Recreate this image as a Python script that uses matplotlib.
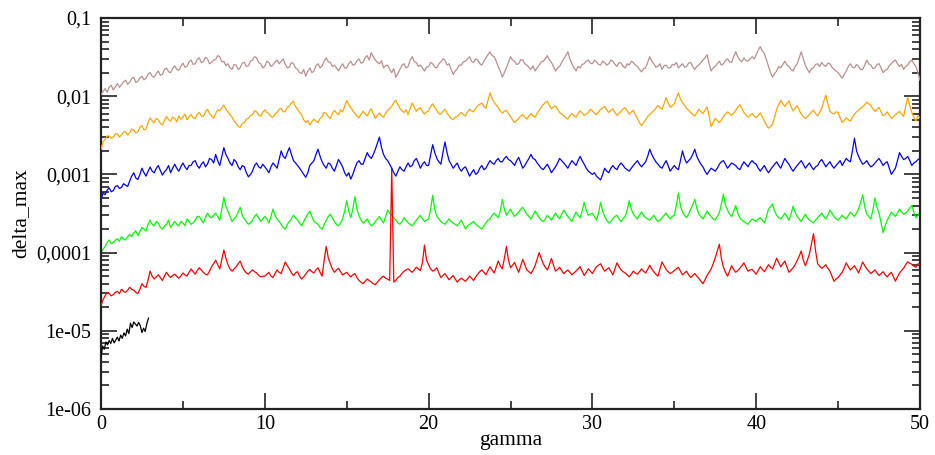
import numpy as np
import matplotlib
matplotlib.use("Agg")
import matplotlib.pyplot as plt
from matplotlib.ticker import LogLocator, NullFormatter, FixedLocator, FixedFormatter, MultipleLocator

plt.rcParams['font.family'] = ['Liberation Serif', 'DejaVu Serif']

# ---------------- data ----------------
gamma_step = 0.125   # spacing of the samples along gamma

brown = [
    1.05e-2, 1.15e-2, 1.25e-2, 1.12e-2, 1.3e-2, 1.38e-2, 1.2e-2, 1.32e-2, 1.45e-2, 1.3e-2,
    1.4e-2, 1.52e-2, 1.6e-2, 1.42e-2, 1.5e-2, 1.68e-2, 1.75e-2, 1.5e-2, 1.55e-2, 1.72e-2,
    1.8e-2, 1.62e-2, 1.7e-2, 1.9e-2, 2.0e-2, 1.8e-2, 1.75e-2, 1.95e-2, 2.1e-2, 1.85e-2,
    1.9e-2, 2.2e-2, 2.3e-2, 2.05e-2, 2.0e-2, 2.25e-2, 2.45e-2, 2.2e-2, 2.15e-2, 2.4e-2,
    2.65e-2, 2.35e-2, 2.4e-2, 2.75e-2, 2.9e-2, 2.55e-2, 2.6e-2, 2.95e-2, 3.1e-2, 2.7e-2,
    2.75e-2, 3.15e-2, 3.0e-2, 2.6e-2, 2.7e-2, 2.9e-2, 2.95e-2, 3.3e-2, 3.2e-2, 2.75e-2,
    2.8e-2, 2.45e-2, 2.6e-2, 2.3e-2, 2.2e-2, 2.55e-2, 2.5e-2, 2.2e-2, 2.3e-2, 2.65e-2,
    2.7e-2, 2.4e-2, 2.45e-2, 2.8e-2, 2.9e-2, 3.2e-2, 3.1e-2, 2.7e-2, 2.6e-2, 2.3e-2,
    2.4e-2, 2.8e-2, 2.7e-2, 2.4e-2, 2.5e-2, 2.75e-2, 2.9e-2, 2.6e-2, 2.8e-2, 3.0e-2,
    2.55e-2, 2.3e-2, 2.35e-2, 2.7e-2, 2.6e-2, 2.3e-2, 2.2e-2, 2.0e-2, 1.95e-2, 2.2e-2,
    1.8e-2, 2.1e-2, 2.3e-2, 2.0e-2, 2.1e-2, 2.45e-2, 2.6e-2, 2.3e-2, 2.45e-2, 2.8e-2,
    3.1e-2, 2.75e-2, 2.7e-2, 2.4e-2, 2.5e-2, 2.3e-2, 2.1e-2, 2.35e-2, 2.6e-2, 2.3e-2,
    2.3e-2, 2.6e-2, 2.8e-2, 2.5e-2, 2.55e-2, 2.85e-2, 3.0e-2, 2.65e-2, 2.7e-2, 3.1e-2,
    3.3e-2, 2.9e-2, 3.6e-2, 3.2e-2, 2.9e-2, 2.7e-2, 2.6e-2, 2.85e-2, 2.3e-2, 2.45e-2,
    2.5e-2, 2.2e-2, 2.0e-2, 2.25e-2, 1.75e-2, 1.95e-2, 2.2e-2, 2.5e-2, 2.6e-2, 2.3e-2,
    2.4e-2, 2.9e-2, 3.2e-2, 2.8e-2, 2.7e-2, 2.4e-2, 2.5e-2, 2.3e-2, 2.1e-2, 2.35e-2,
    2.4e-2, 2.7e-2, 2.6e-2, 2.35e-2, 2.3e-2, 2.6e-2, 2.75e-2, 3.0e-2, 2.9e-2, 2.5e-2,
    2.6e-2, 2.2e-2, 1.9e-2, 2.1e-2, 2.25e-2, 2.5e-2, 2.5e-2, 2.75e-2, 2.8e-2, 3.0e-2,
    3.2e-2, 2.8e-2, 2.7e-2, 3.0e-2, 2.9e-2, 2.6e-2, 2.5e-2, 2.8e-2, 3.1e-2, 3.4e-2,
    3.7e-2, 3.3e-2, 3.2e-2, 2.8e-2, 2.4e-2, 2.1e-2, 1.75e-2, 2.0e-2, 2.3e-2, 2.7e-2,
    3.2e-2, 2.9e-2, 2.8e-2, 2.55e-2, 2.6e-2, 2.95e-2, 2.9e-2, 2.6e-2, 2.5e-2, 2.35e-2,
    2.2e-2, 2.45e-2, 2.1e-2, 2.3e-2, 2.5e-2, 2.75e-2, 2.8e-2, 3.0e-2, 3.3e-2, 2.9e-2,
    2.7e-2, 2.4e-2, 2.1e-2, 2.3e-2, 2.4e-2, 2.7e-2, 3.0e-2, 3.3e-2, 3.7e-2, 3.0e-2,
    2.6e-2, 2.3e-2, 2.1e-2, 2.4e-2, 2.3e-2, 2.55e-2, 2.6e-2, 2.8e-2, 2.9e-2, 2.65e-2,
    2.6e-2, 2.9e-2, 2.75e-2, 2.55e-2, 2.5e-2, 2.8e-2, 2.7e-2, 2.5e-2, 2.6e-2, 2.9e-2,
    2.8e-2, 2.55e-2, 2.4e-2, 2.7e-2, 2.65e-2, 2.4e-2, 2.3e-2, 2.6e-2, 2.5e-2, 2.8e-2,
    2.7e-2, 2.5e-2, 2.4e-2, 2.2e-2, 2.05e-2, 2.25e-2, 2.3e-2, 2.7e-2, 3.2e-2, 2.8e-2,
    2.6e-2, 2.35e-2, 2.4e-2, 2.6e-2, 2.2e-2, 2.45e-2, 2.5e-2, 2.3e-2, 2.3e-2, 2.55e-2,
    2.5e-2, 2.7e-2, 2.3e-2, 2.45e-2, 2.6e-2, 2.35e-2, 2.4e-2, 2.65e-2, 2.7e-2, 2.4e-2,
    2.2e-2, 2.4e-2, 2.5e-2, 2.7e-2, 2.9e-2, 3.1e-2, 3.4e-2, 2.6e-2, 2.1e-2, 2.3e-2,
    2.4e-2, 2.6e-2, 2.8e-2, 2.5e-2, 2.6e-2, 2.85e-2, 3.0e-2, 2.75e-2, 2.7e-2, 3.2e-2,
    3.7e-2, 3.2e-2, 2.9e-2, 2.75e-2, 3.1e-2, 2.85e-2, 2.8e-2, 3.0e-2, 3.2e-2, 3.0e-2,
    3.4e-2, 3.9e-2, 4.3e-2, 3.8e-2, 3.5e-2, 2.9e-2, 2.4e-2, 2.0e-2, 1.75e-2, 1.95e-2,
    2.1e-2, 2.4e-2, 2.3e-2, 2.55e-2, 2.8e-2, 2.5e-2, 2.4e-2, 2.2e-2, 2.1e-2, 2.4e-2,
    2.6e-2, 3.1e-2, 3.7e-2, 3.0e-2, 2.5e-2, 2.2e-2, 2.0e-2, 2.25e-2, 2.3e-2, 2.55e-2,
    2.6e-2, 2.4e-2, 2.7e-2, 2.5e-2, 2.4e-2, 2.65e-2, 2.6e-2, 2.35e-2, 2.2e-2, 2.1e-2,
    2.0e-2, 1.85e-2, 1.7e-2, 1.9e-2, 2.1e-2, 2.4e-2, 2.6e-2, 2.35e-2, 2.3e-2, 2.55e-2,
    2.4e-2, 2.2e-2, 2.2e-2, 2.5e-2, 2.9e-2, 2.6e-2, 2.5e-2, 2.25e-2, 2.3e-2, 2.55e-2,
    2.6e-2, 2.3e-2, 2.0e-2, 2.15e-2, 2.2e-2, 2.45e-2, 2.6e-2, 2.8e-2, 2.9e-2, 2.6e-2,
    2.4e-2, 2.55e-2, 2.2e-2, 2.4e-2, 2.5e-2, 2.75e-2, 2.9e-2, 2.6e-2, 2.4e-2, 2.0e-2,
    1.6e-2,
]

orange = [
    2.1e-3, 2.6e-3, 2.8e-3, 3.1e-3, 3.1e-3, 2.9e-3, 3.0e-3, 3.3e-3, 3.3e-3, 3.0e-3,
    3.2e-3, 3.5e-3, 3.5e-3, 3.2e-3, 3.4e-3, 3.8e-3, 3.7e-3, 3.4e-3, 3.5e-3, 4.0e-3,
    4.2e-3, 3.7e-3, 3.8e-3, 4.6e-3, 5.3e-3, 4.8e-3, 4.6e-3, 5.2e-3, 5.0e-3, 4.5e-3,
    4.3e-3, 4.9e-3, 5.5e-3, 5.0e-3, 4.8e-3, 5.4e-3, 5.2e-3, 4.7e-3, 5.6e-3, 5.1e-3,
    5.4e-3, 5.9e-3, 5.0e-3, 5.4e-3, 5.8e-3, 5.3e-3, 5.2e-3, 5.9e-3, 6.2e-3, 5.6e-3,
    5.5e-3, 6.3e-3, 6.8e-3, 6.0e-3, 5.6e-3, 5.2e-3, 6.0e-3, 6.7e-3, 6.5e-3, 7.1e-3,
    7.7e-3, 6.8e-3, 6.3e-3, 5.8e-3, 5.4e-3, 4.8e-3, 4.5e-3, 4.1e-3, 4.0e-3, 4.5e-3,
    4.6e-3, 5.1e-3, 5.2e-3, 5.7e-3, 5.8e-3, 6.5e-3, 6.3e-3, 5.8e-3, 5.5e-3, 6.2e-3,
    6.7e-3, 6.2e-3, 6.0e-3, 5.5e-3, 5.4e-3, 5.9e-3, 6.2e-3, 6.8e-3, 7.0e-3, 6.3e-3,
    6.4e-3, 7.2e-3, 7.5e-3, 8.2e-3, 8.6e-3, 7.4e-3, 6.8e-3, 6.2e-3, 5.8e-3, 5.0e-3,
    4.6e-3, 4.9e-3, 4.3e-3, 4.7e-3, 5.1e-3, 4.8e-3, 4.6e-3, 5.2e-3, 5.5e-3, 6.2e-3,
    6.0e-3, 5.5e-3, 5.2e-3, 6.0e-3, 6.6e-3, 6.1e-3, 5.8e-3, 6.7e-3, 6.3e-3, 7.4e-3,
    8.8e-3, 7.8e-3, 7.2e-3, 6.5e-3, 6.0e-3, 5.6e-3, 5.3e-3, 5.9e-3, 6.4e-3, 6.0e-3,
    5.6e-3, 6.3e-3, 6.9e-3, 6.0e-3, 5.2e-3, 5.7e-3, 6.1e-3, 5.6e-3, 5.4e-3, 6.0e-3,
    6.6e-3, 7.0e-3, 7.4e-3, 8.3e-3, 8.9e-3, 7.8e-3, 7.0e-3, 6.5e-3, 6.2e-3, 6.7e-3,
    5.8e-3, 7.0e-3, 8.2e-3, 7.2e-3, 6.4e-3, 6.9e-3, 7.1e-3, 6.4e-3, 5.9e-3, 6.3e-3,
    6.5e-3, 7.4e-3, 8.0e-3, 7.2e-3, 6.6e-3, 6.0e-3, 5.9e-3, 6.4e-3, 6.8e-3, 6.1e-3,
    5.6e-3, 5.2e-3, 5.0e-3, 5.4e-3, 5.5e-3, 5.9e-3, 6.2e-3, 5.8e-3, 5.6e-3, 6.3e-3,
    6.8e-3, 6.5e-3, 6.3e-3, 7.0e-3, 7.5e-3, 7.9e-3, 8.2e-3, 7.4e-3, 7.0e-3, 8.8e-3,
    11.0e-3, 9.4e-3, 8.4e-3, 7.7e-3, 7.2e-3, 6.5e-3, 6.1e-3, 6.4e-3, 6.6e-3, 6.0e-3,
    5.5e-3, 5.0e-3, 4.6e-3, 4.9e-3, 5.2e-3, 5.6e-3, 5.8e-3, 5.4e-3, 5.1e-3, 5.6e-3,
    6.0e-3, 5.6e-3, 5.4e-3, 6.0e-3, 6.6e-3, 7.2e-3, 7.8e-3, 8.3e-3, 8.6e-3, 7.6e-3,
    6.9e-3, 7.3e-3, 7.5e-3, 6.8e-3, 6.2e-3, 5.9e-3, 5.6e-3, 5.3e-3, 5.1e-3, 5.6e-3,
    6.0e-3, 5.7e-3, 5.4e-3, 6.0e-3, 6.5e-3, 6.1e-3, 5.7e-3, 5.9e-3, 6.2e-3, 6.8e-3,
    6.5e-3, 6.0e-3, 5.8e-3, 6.3e-3, 6.8e-3, 7.1e-3, 7.4e-3, 6.7e-3, 6.2e-3, 6.6e-3,
    6.9e-3, 6.2e-3, 5.7e-3, 6.0e-3, 6.4e-3, 6.9e-3, 7.1e-3, 6.5e-3, 5.9e-3, 6.3e-3,
    6.6e-3, 5.8e-3, 5.2e-3, 4.6e-3, 4.2e-3, 4.6e-3, 5.0e-3, 5.5e-3, 5.8e-3, 6.2e-3,
    6.5e-3, 7.0e-3, 7.6e-3, 7.2e-3, 6.8e-3, 8.0e-3, 9.6e-3, 8.2e-3, 7.2e-3, 7.6e-3,
    8.0e-3, 9.5e-3, 11.0e-3, 9.2e-3, 8.3e-3, 7.6e-3, 7.0e-3, 6.6e-3, 6.2e-3, 5.9e-3,
    5.6e-3, 6.1e-3, 6.8e-3, 6.4e-3, 6.0e-3, 6.6e-3, 7.3e-3, 5.6e-3, 4.1e-3, 4.6e-3,
    5.2e-3, 4.9e-3, 4.6e-3, 5.0e-3, 5.5e-3, 5.9e-3, 6.3e-3, 6.0e-3, 5.7e-3, 6.1e-3,
    6.6e-3, 7.2e-3, 7.8e-3, 7.0e-3, 6.2e-3, 5.8e-3, 5.4e-3, 5.7e-3, 6.0e-3, 5.6e-3,
    5.3e-3, 5.7e-3, 6.1e-3, 5.4e-3, 4.8e-3, 4.3e-3, 3.9e-3, 4.1e-3, 4.4e-3, 5.4e-3,
    6.8e-3, 7.8e-3, 8.9e-3, 8.0e-3, 7.4e-3, 8.1e-3, 8.7e-3, 7.4e-3, 6.5e-3, 7.0e-3,
    7.6e-3, 6.6e-3, 5.9e-3, 5.5e-3, 5.2e-3, 5.5e-3, 5.8e-3, 6.3e-3, 6.6e-3, 6.0e-3,
    5.6e-3, 6.2e-3, 7.0e-3, 8.6e-3, 10.3e-3, 8.0e-3, 6.4e-3, 6.1e-3, 5.9e-3, 6.3e-3,
    6.2e-3, 5.3e-3, 4.6e-3, 4.9e-3, 5.3e-3, 5.0e-3, 4.8e-3, 5.4e-3, 5.9e-3, 6.3e-3,
    6.6e-3, 7.0e-3, 7.3e-3, 7.8e-3, 8.4e-3, 8.0e-3, 7.6e-3, 6.9e-3, 6.4e-3, 6.8e-3,
    7.2e-3, 6.3e-3, 5.6e-3, 5.9e-3, 6.3e-3, 5.7e-3, 5.2e-3, 5.5e-3, 5.8e-3, 6.1e-3,
    6.4e-3, 5.9e-3, 5.5e-3, 7.4e-3, 9.7e-3, 7.6e-3, 6.2e-3, 5.4e-3, 4.8e-3, 5.6e-3,
    5.3e-3,
]

blue = [
    0.47e-3, 0.58e-3, 0.55e-3, 0.63e-3, 0.67e-3, 0.6e-3, 0.62e-3, 0.7e-3, 0.72e-3, 0.66e-3,
    0.68e-3, 0.76e-3, 0.73e-3, 0.7e-3, 0.82e-3, 0.95e-3, 1.05e-3, 0.9e-3, 0.86e-3, 1.0e-3,
    1.2e-3, 1.05e-3, 0.95e-3, 1.1e-3, 1.24e-3, 1.1e-3, 1.05e-3, 1.2e-3, 1.3e-3, 1.12e-3,
    0.98e-3, 1.08e-3, 1.15e-3, 1.3e-3, 1.05e-3, 1.2e-3, 1.35e-3, 1.2e-3, 1.1e-3, 1.25e-3,
    1.4e-3, 1.25e-3, 1.15e-3, 1.3e-3, 1.3e-3, 1.45e-3, 1.5e-3, 1.3e-3, 1.2e-3, 1.35e-3,
    1.45e-3, 1.25e-3, 1.35e-3, 1.6e-3, 1.55e-3, 1.4e-3, 1.8e-3, 1.5e-3, 1.3e-3, 1.7e-3,
    2.2e-3, 1.8e-3, 1.6e-3, 1.4e-3, 1.3e-3, 1.55e-3, 1.45e-3, 1.25e-3, 1.15e-3, 1.3e-3,
    1.25e-3, 1.05e-3, 0.93e-3, 1.0e-3, 1.1e-3, 1.3e-3, 1.4e-3, 1.25e-3, 1.2e-3, 1.35e-3,
    1.25e-3, 1.15e-3, 1.05e-3, 1.25e-3, 1.4e-3, 1.3e-3, 1.2e-3, 1.55e-3, 2.0e-3, 1.7e-3,
    1.6e-3, 1.9e-3, 2.2e-3, 1.8e-3, 1.5e-3, 1.4e-3, 1.3e-3, 1.2e-3, 1.1e-3, 1.0e-3,
    0.92e-3, 1.05e-3, 1.3e-3, 1.4e-3, 1.5e-3, 1.8e-3, 2.1e-3, 1.7e-3, 1.45e-3, 1.3e-3,
    1.2e-3, 1.4e-3, 1.35e-3, 1.2e-3, 1.1e-3, 1.3e-3, 1.55e-3, 1.4e-3, 1.25e-3, 1.05e-3,
    0.95e-3, 1.05e-3, 0.87e-3, 1.0e-3, 1.2e-3, 1.4e-3, 1.5e-3, 1.35e-3, 1.35e-3, 1.6e-3,
    1.9e-3, 1.7e-3, 1.6e-3, 1.8e-3, 2.1e-3, 2.5e-3, 3.0e-3, 2.2e-3, 1.8e-3, 1.6e-3,
    1.5e-3, 1.35e-3, 1.2e-3, 1.05e-3, 0.95e-3, 1.1e-3, 1.25e-3, 1.15e-3, 1.1e-3, 1.25e-3,
    1.4e-3, 1.25e-3, 1.3e-3, 1.5e-3, 1.6e-3, 1.4e-3, 1.2e-3, 1.35e-3, 1.45e-3, 1.3e-3,
    1.3e-3, 1.8e-3, 2.4e-3, 1.9e-3, 1.6e-3, 1.45e-3, 1.35e-3, 1.9e-3, 2.6e-3, 1.9e-3,
    1.5e-3, 1.35e-3, 1.2e-3, 1.3e-3, 1.4e-3, 1.2e-3, 1.1e-3, 1.2e-3, 1.25e-3, 1.1e-3,
    0.95e-3, 1.05e-3, 1.15e-3, 1.0e-3, 1.05e-3, 1.2e-3, 1.3e-3, 1.15e-3, 1.2e-3, 1.35e-3,
    1.5e-3, 1.4e-3, 1.35e-3, 1.5e-3, 1.6e-3, 1.45e-3, 1.45e-3, 1.6e-3, 1.7e-3, 1.55e-3,
    1.5e-3, 1.4e-3, 1.3e-3, 1.5e-3, 1.65e-3, 1.4e-3, 1.2e-3, 1.3e-3, 1.45e-3, 1.6e-3,
    1.8e-3, 1.6e-3, 1.55e-3, 1.4e-3, 1.3e-3, 1.2e-3, 1.15e-3, 1.25e-3, 1.35e-3, 1.2e-3,
    1.05e-3, 1.15e-3, 1.25e-3, 1.4e-3, 1.6e-3, 1.5e-3, 1.4e-3, 1.3e-3, 1.2e-3, 1.35e-3,
    1.5e-3, 1.4e-3, 1.3e-3, 1.5e-3, 1.7e-3, 1.5e-3, 1.35e-3, 1.2e-3, 1.1e-3, 1.05e-3,
    1.0e-3, 1.05e-3, 0.95e-3, 0.9e-3, 0.85e-3, 1.0e-3, 1.2e-3, 1.1e-3, 1.05e-3, 1.2e-3,
    1.3e-3, 1.2e-3, 1.15e-3, 1.3e-3, 1.4e-3, 1.3e-3, 1.2e-3, 1.15e-3, 1.1e-3, 1.2e-3,
    1.3e-3, 1.4e-3, 1.5e-3, 1.35e-3, 1.25e-3, 1.35e-3, 1.45e-3, 1.7e-3, 2.1e-3, 1.8e-3,
    1.6e-3, 1.45e-3, 1.35e-3, 1.25e-3, 1.2e-3, 1.35e-3, 1.5e-3, 1.3e-3, 1.1e-3, 1.2e-3,
    1.3e-3, 1.2e-3, 1.15e-3, 1.5e-3, 2.0e-3, 1.6e-3, 1.4e-3, 1.5e-3, 1.6e-3, 1.8e-3,
    2.1e-3, 1.7e-3, 1.5e-3, 1.35e-3, 1.25e-3, 1.1e-3, 1.0e-3, 1.1e-3, 1.2e-3, 1.15e-3,
    1.1e-3, 1.2e-3, 1.35e-3, 1.45e-3, 1.5e-3, 1.35e-3, 1.2e-3, 1.3e-3, 1.4e-3, 1.35e-3,
    1.3e-3, 1.2e-3, 1.15e-3, 1.3e-3, 1.45e-3, 1.35e-3, 1.25e-3, 1.4e-3, 1.5e-3, 1.4e-3,
    1.35e-3, 1.2e-3, 1.1e-3, 1.2e-3, 1.3e-3, 1.15e-3, 1.05e-3, 1.15e-3, 1.25e-3, 1.35e-3,
    1.45e-3, 1.3e-3, 1.2e-3, 1.4e-3, 1.6e-3, 1.45e-3, 1.35e-3, 1.2e-3, 1.1e-3, 1.2e-3,
    1.3e-3, 1.4e-3, 1.5e-3, 1.35e-3, 1.2e-3, 1.3e-3, 1.4e-3, 1.25e-3, 1.15e-3, 1.25e-3,
    1.3e-3, 1.45e-3, 1.55e-3, 1.4e-3, 1.25e-3, 1.35e-3, 1.45e-3, 1.3e-3, 1.2e-3, 1.3e-3,
    1.4e-3, 1.5e-3, 1.3e-3, 1.45e-3, 1.6e-3, 1.5e-3, 1.45e-3, 2.0e-3, 2.9e-3, 2.0e-3,
    1.7e-3, 1.5e-3, 1.35e-3, 1.4e-3, 1.5e-3, 1.35e-3, 1.25e-3, 1.3e-3, 1.4e-3, 1.5e-3,
    1.6e-3, 1.45e-3, 1.3e-3, 1.4e-3, 1.45e-3, 1.2e-3, 1.0e-3, 1.1e-3, 1.2e-3, 1.5e-3,
    1.9e-3, 1.7e-3, 1.55e-3, 1.6e-3, 1.7e-3, 1.5e-3, 1.3e-3, 1.4e-3, 1.45e-3, 1.55e-3,
    1.6e-3,
]

green = [
    1.0e-4, 1.1e-4, 1.2e-4, 1.35e-4, 1.45e-4, 1.3e-4, 1.35e-4, 1.45e-4, 1.5e-4, 1.4e-4,
    1.6e-4, 1.5e-4, 1.45e-4, 1.6e-4, 1.7e-4, 1.6e-4, 1.8e-4, 1.9e-4, 1.65e-4, 1.85e-4,
    2.1e-4, 2.0e-4, 1.9e-4, 2.3e-4, 2.6e-4, 2.3e-4, 2.2e-4, 2.5e-4, 2.4e-4, 2.1e-4,
    2.0e-4, 2.2e-4, 2.3e-4, 2.6e-4, 2.1e-4, 2.3e-4, 2.5e-4, 2.3e-4, 2.2e-4, 2.5e-4,
    2.4e-4, 2.2e-4, 2.7e-4, 2.5e-4, 2.3e-4, 2.4e-4, 2.6e-4, 2.9e-4, 2.9e-4, 2.6e-4,
    2.4e-4, 2.8e-4, 3.2e-4, 2.9e-4, 2.8e-4, 3.0e-4, 3.2e-4, 2.9e-4, 2.6e-4, 3.6e-4,
    5.1e-4, 3.9e-4, 3.4e-4, 2.9e-4, 2.5e-4, 2.7e-4, 2.9e-4, 3.3e-4, 3.8e-4, 3.0e-4,
    2.7e-4, 2.5e-4, 2.3e-4, 2.4e-4, 2.6e-4, 2.9e-4, 3.1e-4, 2.8e-4, 2.5e-4, 2.7e-4,
    2.9e-4, 2.7e-4, 2.4e-4, 2.9e-4, 3.6e-4, 3.0e-4, 2.7e-4, 2.5e-4, 2.3e-4, 2.1e-4,
    2.0e-4, 2.3e-4, 2.5e-4, 2.7e-4, 3.0e-4, 2.8e-4, 2.6e-4, 2.4e-4, 2.2e-4, 2.5e-4,
    2.8e-4, 3.1e-4, 3.4e-4, 2.9e-4, 2.5e-4, 2.4e-4, 2.3e-4, 2.1e-4, 2.0e-4, 2.3e-4,
    2.6e-4, 2.9e-4, 3.1e-4, 2.8e-4, 2.5e-4, 2.3e-4, 2.2e-4, 2.4e-4, 2.7e-4, 3.4e-4,
    4.6e-4, 3.4e-4, 2.8e-4, 3.6e-4, 5.2e-4, 3.6e-4, 3.0e-4, 2.6e-4, 2.4e-4, 2.5e-4,
    2.7e-4, 2.4e-4, 2.2e-4, 2.3e-4, 2.5e-4, 2.7e-4, 2.9e-4, 2.6e-4, 2.4e-4, 2.9e-4,
    3.5e-4, 3.2e-4, 3.0e-4, 2.8e-4, 2.6e-4, 2.4e-4, 2.3e-4, 2.5e-4, 2.8e-4, 2.6e-4,
    2.4e-4, 2.3e-4, 2.2e-4, 2.4e-4, 2.6e-4, 2.8e-4, 3.0e-4, 2.7e-4, 2.5e-4, 2.6e-4,
    2.7e-4, 3.6e-4, 5.4e-4, 3.6e-4, 2.9e-4, 2.7e-4, 2.5e-4, 2.4e-4, 2.3e-4, 2.5e-4,
    2.7e-4, 2.5e-4, 2.4e-4, 2.3e-4, 2.2e-4, 2.4e-4, 2.6e-4, 2.3e-4, 2.0e-4, 2.2e-4,
    2.3e-4, 2.4e-4, 2.5e-4, 2.3e-4, 2.2e-4, 2.1e-4, 2.0e-4, 2.2e-4, 2.4e-4, 2.6e-4,
    2.7e-4, 3.0e-4, 3.2e-4, 3.0e-4, 2.8e-4, 3.4e-4, 4.8e-4, 3.6e-4, 3.0e-4, 3.3e-4,
    3.6e-4, 3.2e-4, 2.9e-4, 3.1e-4, 3.3e-4, 3.6e-4, 3.8e-4, 3.4e-4, 3.1e-4, 2.9e-4,
    2.7e-4, 3.0e-4, 3.4e-4, 3.1e-4, 2.8e-4, 2.6e-4, 2.5e-4, 2.7e-4, 3.0e-4, 2.8e-4,
    2.6e-4, 2.9e-4, 3.2e-4, 2.9e-4, 2.7e-4, 3.1e-4, 3.5e-4, 3.2e-4, 2.9e-4, 2.7e-4,
    2.5e-4, 2.9e-4, 3.3e-4, 3.0e-4, 2.8e-4, 3.4e-4, 4.4e-4, 3.5e-4, 3.0e-4, 3.1e-4,
    3.2e-4, 2.9e-4, 2.6e-4, 3.2e-4, 4.4e-4, 3.4e-4, 2.9e-4, 2.6e-4, 2.4e-4, 2.5e-4,
    2.7e-4, 2.9e-4, 3.0e-4, 2.7e-4, 2.5e-4, 2.7e-4, 2.9e-4, 3.5e-4, 4.6e-4, 3.6e-4,
    3.1e-4, 2.9e-4, 2.7e-4, 3.0e-4, 3.3e-4, 3.0e-4, 2.8e-4, 2.7e-4, 2.6e-4, 2.8e-4,
    3.0e-4, 2.7e-4, 2.5e-4, 2.6e-4, 2.8e-4, 3.0e-4, 3.2e-4, 2.9e-4, 2.7e-4, 2.9e-4,
    3.0e-4, 4.0e-4, 5.8e-4, 4.0e-4, 3.3e-4, 3.0e-4, 2.8e-4, 3.1e-4, 3.6e-4, 4.1e-4,
    4.8e-4, 3.7e-4, 3.1e-4, 2.9e-4, 2.7e-4, 3.0e-4, 3.4e-4, 3.1e-4, 2.9e-4, 2.7e-4,
    2.6e-4, 2.9e-4, 3.2e-4, 4.2e-4, 5.6e-4, 4.0e-4, 3.5e-4, 3.1e-4, 2.9e-4, 3.4e-4,
    4.0e-4, 3.2e-4, 2.8e-4, 2.6e-4, 2.5e-4, 2.4e-4, 2.3e-4, 2.5e-4, 2.7e-4, 2.6e-4,
    2.5e-4, 2.7e-4, 2.8e-4, 2.6e-4, 2.4e-4, 2.9e-4, 3.6e-4, 3.9e-4, 4.2e-4, 3.4e-4,
    3.0e-4, 2.8e-4, 2.7e-4, 2.9e-4, 3.2e-4, 2.9e-4, 2.6e-4, 3.1e-4, 3.9e-4, 3.3e-4,
    2.9e-4, 2.7e-4, 2.5e-4, 2.8e-4, 3.1e-4, 2.8e-4, 2.6e-4, 2.5e-4, 2.4e-4, 2.6e-4,
    2.8e-4, 3.0e-4, 3.2e-4, 2.9e-4, 2.7e-4, 3.0e-4, 3.5e-4, 3.2e-4, 2.9e-4, 2.7e-4,
    2.6e-4, 2.8e-4, 3.0e-4, 2.8e-4, 2.7e-4, 3.0e-4, 3.3e-4, 3.1e-4, 2.9e-4, 3.2e-4,
    3.6e-4, 4.4e-4, 5.5e-4, 3.9e-4, 3.1e-4, 2.9e-4, 2.7e-4, 3.5e-4, 5.0e-4, 3.8e-4,
    3.2e-4, 2.4e-4, 1.8e-4, 2.2e-4, 2.6e-4, 2.9e-4, 3.3e-4, 3.1e-4, 2.9e-4, 3.2e-4,
    3.6e-4, 3.3e-4, 3.1e-4, 3.2e-4, 3.4e-4, 3.7e-4, 4.0e-4, 3.3e-4, 2.8e-4, 3.0e-4,
    3.3e-4,
]

red = [
    2.1e-5, 2.5e-5, 2.8e-5, 3.1e-5, 3.0e-5, 2.8e-5, 2.9e-5, 3.1e-5, 3.2e-5, 3.0e-5,
    3.4e-5, 3.2e-5, 3.1e-5, 3.3e-5, 3.6e-5, 3.4e-5, 3.3e-5, 3.1e-5, 3.0e-5, 3.4e-5,
    4.0e-5, 3.7e-5, 3.6e-5, 4.5e-5, 5.8e-5, 5.0e-5, 4.6e-5, 4.9e-5, 5.2e-5, 4.8e-5,
    4.4e-5, 5.0e-5, 5.6e-5, 5.1e-5, 4.8e-5, 5.1e-5, 5.3e-5, 5.0e-5, 4.7e-5, 5.0e-5,
    5.5e-5, 5.2e-5, 5.0e-5, 5.6e-5, 6.2e-5, 5.7e-5, 5.3e-5, 5.9e-5, 6.4e-5, 6.0e-5,
    5.6e-5, 5.3e-5, 5.2e-5, 5.8e-5, 6.6e-5, 7.2e-5, 8.0e-5, 7.0e-5, 6.2e-5, 8.2e-5,
    10.8e-5, 8.5e-5, 7.0e-5, 6.2e-5, 5.8e-5, 6.2e-5, 6.6e-5, 7.2e-5, 7.8e-5, 6.6e-5,
    5.9e-5, 5.5e-5, 5.3e-5, 5.7e-5, 6.0e-5, 5.7e-5, 5.5e-5, 5.1e-5, 4.9e-5, 5.0e-5,
    5.0e-5, 5.3e-5, 5.6e-5, 5.0e-5, 4.8e-5, 5.4e-5, 6.0e-5, 5.6e-5, 5.4e-5, 6.4e-5,
    7.6e-5, 6.8e-5, 6.2e-5, 5.5e-5, 5.1e-5, 5.5e-5, 5.7e-5, 5.0e-5, 4.6e-5, 4.9e-5,
    5.3e-5, 5.8e-5, 6.1e-5, 5.7e-5, 5.5e-5, 6.0e-5, 6.4e-5, 5.6e-5, 5.0e-5, 8.0e-5,
    12.0e-5, 8.6e-5, 7.2e-5, 6.2e-5, 5.6e-5, 6.0e-5, 6.3e-5, 5.7e-5, 5.2e-5, 5.4e-5,
    5.6e-5, 5.2e-5, 4.9e-5, 5.2e-5, 5.4e-5, 4.8e-5, 4.4e-5, 4.2e-5, 4.0e-5, 4.3e-5,
    4.6e-5, 4.4e-5, 4.2e-5, 4.0e-5, 3.9e-5, 4.2e-5, 4.5e-5, 4.8e-5, 5.0e-5, 4.7e-5,
    4.6e-5, 4.4e-5, 120.0e-5, 4.2e-5, 4.4e-5, 4.8e-5, 5.0e-5, 5.4e-5, 5.8e-5, 6.0e-5,
    6.2e-5, 5.9e-5, 5.6e-5, 6.0e-5, 6.5e-5, 6.2e-5, 5.9e-5, 7.5e-5, 12.5e-5, 8.0e-5,
    7.0e-5, 6.2e-5, 5.8e-5, 6.0e-5, 6.4e-5, 5.5e-5, 4.8e-5, 5.1e-5, 5.4e-5, 4.9e-5,
    4.5e-5, 4.8e-5, 5.1e-5, 4.6e-5, 4.2e-5, 4.5e-5, 4.7e-5, 4.5e-5, 4.3e-5, 4.6e-5,
    5.0e-5, 4.7e-5, 4.4e-5, 4.9e-5, 5.3e-5, 5.7e-5, 6.0e-5, 5.6e-5, 5.2e-5, 5.9e-5,
    6.6e-5, 6.0e-5, 5.5e-5, 6.5e-5, 7.8e-5, 6.8e-5, 6.2e-5, 8.4e-5, 12.0e-5, 8.0e-5,
    6.4e-5, 6.9e-5, 7.5e-5, 6.4e-5, 5.6e-5, 6.8e-5, 8.2e-5, 7.0e-5, 6.0e-5, 5.7e-5,
    5.4e-5, 6.0e-5, 6.8e-5, 8.2e-5, 10.0e-5, 8.4e-5, 7.2e-5, 6.5e-5, 6.0e-5, 7.0e-5,
    8.4e-5, 6.9e-5, 5.8e-5, 6.1e-5, 6.5e-5, 5.9e-5, 5.4e-5, 5.7e-5, 6.0e-5, 5.6e-5,
    5.2e-5, 5.5e-5, 5.8e-5, 6.2e-5, 6.6e-5, 5.8e-5, 5.1e-5, 5.6e-5, 6.2e-5, 5.8e-5,
    5.4e-5, 6.0e-5, 6.6e-5, 6.9e-5, 7.2e-5, 6.4e-5, 5.8e-5, 6.1e-5, 6.4e-5, 5.8e-5,
    5.2e-5, 6.2e-5, 7.4e-5, 6.6e-5, 6.0e-5, 5.7e-5, 5.5e-5, 5.2e-5, 4.9e-5, 5.3e-5,
    5.8e-5, 5.5e-5, 5.3e-5, 5.7e-5, 6.2e-5, 5.8e-5, 5.5e-5, 6.1e-5, 6.9e-5, 6.2e-5,
    5.7e-5, 5.3e-5, 5.0e-5, 6.2e-5, 7.6e-5, 6.8e-5, 6.1e-5, 5.7e-5, 5.4e-5, 5.6e-5,
    5.9e-5, 6.2e-5, 6.5e-5, 5.8e-5, 5.2e-5, 5.5e-5, 5.8e-5, 5.2e-5, 4.8e-5, 5.1e-5,
    5.4e-5, 5.0e-5, 4.7e-5, 4.3e-5, 4.0e-5, 4.5e-5, 5.1e-5, 5.6e-5, 6.2e-5, 7.2e-5,
    8.6e-5, 10.5e-5, 12.8e-5, 8.4e-5, 6.5e-5, 5.6e-5, 5.0e-5, 5.8e-5, 6.8e-5, 6.1e-5,
    5.6e-5, 5.9e-5, 6.3e-5, 6.8e-5, 7.4e-5, 6.5e-5, 5.8e-5, 6.0e-5, 6.1e-5, 5.7e-5,
    5.3e-5, 5.9e-5, 6.6e-5, 6.1e-5, 5.7e-5, 6.3e-5, 7.0e-5, 6.5e-5, 6.2e-5, 7.2e-5,
    8.5e-5, 7.4e-5, 6.6e-5, 7.2e-5, 7.8e-5, 6.6e-5, 5.6e-5, 6.0e-5, 6.4e-5, 7.0e-5,
    7.9e-5, 9.0e-5, 10.5e-5, 8.0e-5, 6.8e-5, 8.0e-5, 9.6e-5, 13.0e-5, 17.5e-5, 10.5e-5,
    7.2e-5, 6.7e-5, 6.3e-5, 6.6e-5, 7.0e-5, 6.3e-5, 5.8e-5, 5.0e-5, 4.3e-5, 4.6e-5,
    4.8e-5, 5.2e-5, 5.6e-5, 6.4e-5, 7.4e-5, 6.6e-5, 6.0e-5, 6.4e-5, 6.8e-5, 6.1e-5,
    5.5e-5, 6.4e-5, 7.6e-5, 6.8e-5, 6.2e-5, 5.8e-5, 5.4e-5, 5.7e-5, 6.0e-5, 5.5e-5,
    5.1e-5, 5.4e-5, 5.7e-5, 5.2e-5, 4.9e-5, 5.3e-5, 5.6e-5, 4.9e-5, 4.3e-5, 4.9e-5,
    5.5e-5, 5.9e-5, 6.3e-5, 7.0e-5, 7.6e-5, 7.3e-5, 7.1e-5, 6.7e-5, 6.5e-5, 7.2e-5,
    7.0e-5,
]

black_gamma = [
    0.0, 0.1, 0.2, 0.3, 0.4, 0.5, 0.6, 0.7, 0.8, 0.9, 1.0, 1.1, 1.2, 1.3, 1.4,
    1.5, 1.6, 1.7, 1.8, 1.9, 2.0, 2.1, 2.2, 2.3, 2.4, 2.5, 2.6, 2.7, 2.8, 2.9,
]
black = [
    4.6e-6, 6.4e-6, 5.8e-6, 7.2e-6, 6.6e-6, 7.5e-6, 6.9e-6, 8.0e-6, 7.0e-6, 7.6e-6,
    8.3e-6, 7.4e-6, 8.8e-6, 8.0e-6, 9.4e-6, 8.6e-6, 10.5e-6, 9.2e-6, 12.5e-6, 11.0e-6,
    13.0e-6, 12.2e-6, 11.5e-6, 12.8e-6, 11.6e-6, 9.5e-6, 10.8e-6, 9.8e-6, 12.4e-6, 14.5e-6,
]

ytick_values = [1e-6, 1e-5, 1e-4, 1e-3, 1e-2, 1e-1]
ytick_labels = ["1e-06", "1e-05", "0,0001", "0,001", "0,01", "0,1"]
xtick_values = [0, 10, 20, 30, 40, 50]
xtick_labels = ["0", "10", "20", "30", "40", "50"]


def gamma_for(series):
    return np.arange(len(series)) * gamma_step


# ---------------- figure ----------------
fig = plt.figure(figsize=(9.35, 4.55), dpi=100)
ax = fig.add_axes([101 / 935, 1 - 409 / 455, (920 - 101) / 935, (409 - 18) / 455])

lw = 0.9
ax.plot(gamma_for(green), green, color="#00ff00", lw=lw, zorder=2)
ax.plot(gamma_for(red), red, color="#ff0000", lw=lw, zorder=3)
ax.plot(gamma_for(blue), blue, color="#0000ff", lw=lw, zorder=4)
ax.plot(gamma_for(orange), orange, color="#ffa500", lw=lw, zorder=5)
ax.plot(gamma_for(brown), brown, color="#bc8f8f", lw=lw, zorder=6)
ax.plot(black_gamma, black, color="#000000", lw=lw, zorder=7)

ax.set_yscale("log")
ax.set_xlim(0, 50)
ax.set_ylim(1e-6, 1e-1)

ax.xaxis.set_major_locator(FixedLocator(xtick_values))
ax.xaxis.set_major_formatter(FixedFormatter(xtick_labels))
ax.xaxis.set_minor_locator(MultipleLocator(5))
ax.yaxis.set_major_locator(FixedLocator(ytick_values))
ax.yaxis.set_major_formatter(FixedFormatter(ytick_labels))
ax.yaxis.set_minor_locator(LogLocator(base=10, subs=np.arange(2, 10), numticks=20))
ax.yaxis.set_minor_formatter(NullFormatter())

for sp in ax.spines.values():
    sp.set_linewidth(1.6)
    sp.set_color("#222222")

ax.tick_params(axis="both", which="both", direction="in", top=True, right=True,
               color="#222222", width=1.2)
ax.tick_params(axis="both", which="major", length=11.5, labelsize=14.5)
ax.tick_params(axis="both", which="minor", length=5.8)
ax.tick_params(axis="x", which="major", pad=4)
ax.tick_params(axis="y", which="major", pad=7)

ax.set_xlabel("gamma", fontsize=15.5, labelpad=-2)
ax.set_ylabel("delta_max", fontsize=15.5, labelpad=4)

fig.savefig("out.png", dpi=100)
